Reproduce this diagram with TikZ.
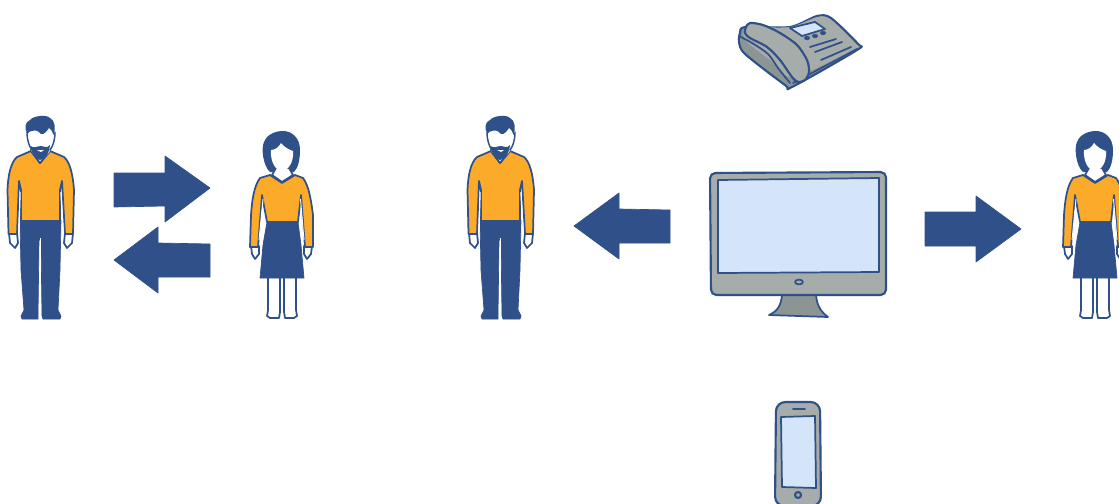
\documentclass[tikz,border=0pt]{standalone}
\definecolor{inkblue}{HTML}{2F5088}
\definecolor{shirt}{HTML}{FBAA2A}
\definecolor{devgray}{HTML}{A6ACA9}
\definecolor{darkgray}{HTML}{8C9593}
\definecolor{screen}{HTML}{D4E5F9}
\tikzset{
  ink/.style={draw=inkblue,line width=1.6pt,line join=round,line cap=round},
  thin ink/.style={draw=inkblue,line width=1.3pt,line join=round,line cap=round},
  solidblue/.style={fill=inkblue,draw=inkblue,line width=.5pt,line join=round},
  pics/man/.style={code={
    % hands
    \path[thin ink,fill=white] (9,233) -- (10,243) -- (15,248) -- (18,243) -- (17,233) -- cycle;
    \path[thin ink,fill=white] (73,233) -- (72,243) -- (67,248) -- (64,243) -- (65,233) -- cycle;
    % trousers
    \path[solidblue] (20,220) -- (61,220) -- (60,270) -- (58,310) -- (61,316) -- (60,319) -- (43,319) -- (42,316) -- (41,240) -- (39,240) -- (38,316) -- (38,319) -- (22,319) -- (21,316) -- (24,310) -- (21,270) -- cycle;
    \draw[white,line width=.9pt] (40.2,238) -- (40.2,319);
    % shirt
    \path[thin ink,fill=shirt] (31,151) -- (40,163) -- (50,151) -- (64,157) .. controls (70,162) and (73,175) .. (74,190) -- (73,234) -- (65,234) -- (62,181) -- (60,190) -- (60,221) -- (21,221) -- (21,190) -- (19,181) -- (17,234) -- (8.5,234) -- (7.5,190) .. controls (8,175) and (11,162) .. (17,157) -- cycle;
    \draw[white,line width=.8pt] (20.2,192) -- (19,232) (60.8,192) -- (63,232);
    % neck
    \path[thin ink,fill=white] (31,151) -- (40,163) -- (50,151) -- (50,142) -- (31,142) -- cycle;
    % face
    \path[fill=white] (27,128) -- (55,128) -- (55,134) .. controls (54,146) and (48,158) .. (40,158) .. controls (33,158) and (28,146) .. (27,134) -- cycle;
    \draw[inkblue,line width=1.1pt,line cap=round] (27,132) .. controls (27,140) and (29,146) .. (32,150);
    \draw[inkblue,line width=1.1pt,line cap=round] (55,132) .. controls (55,140) and (53,146) .. (50,150);
    % beard
    \path[fill=inkblue] (30.5,146) .. controls (34,149) and (37,146) .. (41,146) .. controls (44,146) and (47,149) .. (50,145) .. controls (50,152) and (45,160) .. (40,160) .. controls (35,160) and (31,152) .. (30.5,146) -- cycle;
    \path[fill=white] (37,150) -- (44,150) -- (41,152) -- cycle;
    % hair
    \path[fill=inkblue] (27.5,134) .. controls (24,128) and (25,122) .. (30,120) .. controls (33,116) and (46,114) .. (50,118) .. controls (55,120) and (56,129) .. (53.5,135) .. controls (52,131) and (51,129) .. (49,128) .. controls (47,131) and (44,135) .. (41,134) .. controls (38,130) and (34,130) .. (32,131) .. controls (30,131) and (28.5,132) .. (27.5,134) -- cycle;
  }},
  pics/woman/.style={code={
    % hair
    \path[fill=inkblue] (270,172) .. controls (263,166) and (261,148) .. (264,142) .. controls (267,134) and (276,131) .. (283,131) .. controls (292,131) and (300,138) .. (300,150) .. controls (300,160) and (298,168) .. (294,172) -- cycle;
    % hands
    \path[thin ink,fill=white] (251,246) -- (252,254) -- (255,259) -- (259,254) -- (259,246) -- cycle;
    \path[thin ink,fill=white] (312,246) -- (311,254) -- (307,259) -- (304,254) -- (304,246) -- cycle;
    % legs
    \path[thin ink,fill=white] (268,277) -- (268,310) -- (267,316) -- (270,318) -- (279,318) -- (280,312) -- (280,277) -- cycle;
    \path[thin ink,fill=white] (284,277) -- (284,312) -- (285,318) -- (294,318) -- (297,316) -- (296,310) -- (296,277) -- cycle;
    % skirt
    \path[solidblue] (267,222) -- (298,222) -- (301,245) -- (304,278) -- (260,278) -- (263,245) -- cycle;
    % shirt
    \path[thin ink,fill=shirt] (270,175) -- (282,183) -- (295,175) -- (303,178) .. controls (309,186) and (311,200) .. (313,215) -- (313,247) -- (305,247) -- (301,195) -- (298,222) -- (267,222) -- (262,195) -- (258,247) -- (250,247) -- (251,215) .. controls (252,200) and (254,186) .. (260,178) -- cycle;
    \draw[white,line width=.7pt] (263,199) -- (259,240) (300.5,199) -- (304,240);
    % neck
    \path[thin ink,fill=white] (272,175) -- (282,182) -- (293,175) -- (289,168) -- (276,168) -- cycle;
    % face
    \path[fill=white] (271,150) .. controls (275,150) and (279,147) .. (281,143) .. controls (285,148) and (290,150) .. (293,151) .. controls (294,162) and (288,171) .. (282,171) .. controls (276,171) and (270,162) .. (271,150) -- cycle;
  }}
}
\begin{document}
\begin{tikzpicture}[x=0.75pt,y=-0.75pt]
\useasboundingbox (0,0) rectangle (1119,503);
\clip (0,0) rectangle (1119,503);
\fill[white] (0,0) rectangle (1119,503);

% people
\pic at (0,0) {man};
\pic at (0,0) {woman};
\pic at (460,0) {man};
\pic at (813,0) {woman};

% arrows
\path[solidblue] (114,173) -- (165,173) -- (165,156) -- (210,188) -- (165,222) -- (165,206) -- (114,207) -- cycle;
\path[solidblue] (114,260) -- (158,227) -- (158,243) -- (210,244) -- (210,277) -- (158,277) -- (158,293) -- cycle;
\path[solidblue] (574,226) -- (619,193) -- (619,209) -- (670,210) -- (670,243) -- (619,243) -- (619,259) -- cycle;
\path[solidblue] (925,212) -- (976,212) -- (976,196) -- (1021,229) -- (976,262) -- (976,246) -- (925,246) -- cycle;

% monitor
\path[thin ink,fill=darkgray] (782,295) .. controls (781,305) and (778,311) .. (769,315) -- (828,317) .. controls (820,311) and (817,305) .. (816,295) -- cycle;
\path[ink,fill=devgray,rounded corners=4pt] (710,173) -- (886,172) -- (886,295) -- (711,295) -- cycle;
\path[thin ink,fill=screen] (718,180) -- (879,178) -- (879,272) -- (718,273) -- cycle;
\draw[thin ink] (799,282) ellipse [x radius=4,y radius=2.4];

% desk telephone
\path[ink,fill=darkgray] plot[smooth cycle,tension=.45] coordinates {(745,27) (790,27) (817,16) (831,18) (858,44) (857,50) (792,87) (785,85) (745,54) (739,42) (740,33)};
\path[draw=none,fill=devgray] plot[smooth cycle,tension=.45] coordinates {(748,28) (790,27) (817,17) (830,19) (856,44) (855,49) (793,77) (770,60) (745,40)};
\draw[thin ink] plot[smooth,tension=.5] coordinates {(739,36) (752,43) (768,54) (778,68) (790,83)};
\draw[thin ink] (793,83) -- (857,49);
\path[thin ink,fill=screen] (790,28) -- (815,22) -- (825,29) -- (802,36) -- cycle;
\foreach \ex/\ey in {807/38,815/36,823/33}
  \draw[inkblue,fill=inkblue] (\ex,\ey) ellipse [x radius=2.6,y radius=1.8];
\draw[thin ink] (810,47) -- (836,39) (815,52) -- (842,42) (821,60) -- (851,47);
\path[ink,fill=devgray] plot[smooth cycle,tension=.5] coordinates {(746,27) (750,23) (763,25) (780,33) (797,45) (807,60) (809,72) (805,80) (798,82) (792,77) (780,60) (767,47) (750,38) (745,33)};

% mobile phone
\path[ink,fill=devgray,rounded corners=7pt] (776,402) -- (820,402) -- (821,506) -- (775,506) -- cycle;
\path[thin ink,fill=screen] (781,417) -- (815,416) -- (816,488) -- (782,487) -- cycle;
\draw[inkblue,line width=1.4pt,line cap=round] (793,409) -- (805,409);
\draw[ink] (798,495) circle [radius=3];
\end{tikzpicture}
\end{document}
